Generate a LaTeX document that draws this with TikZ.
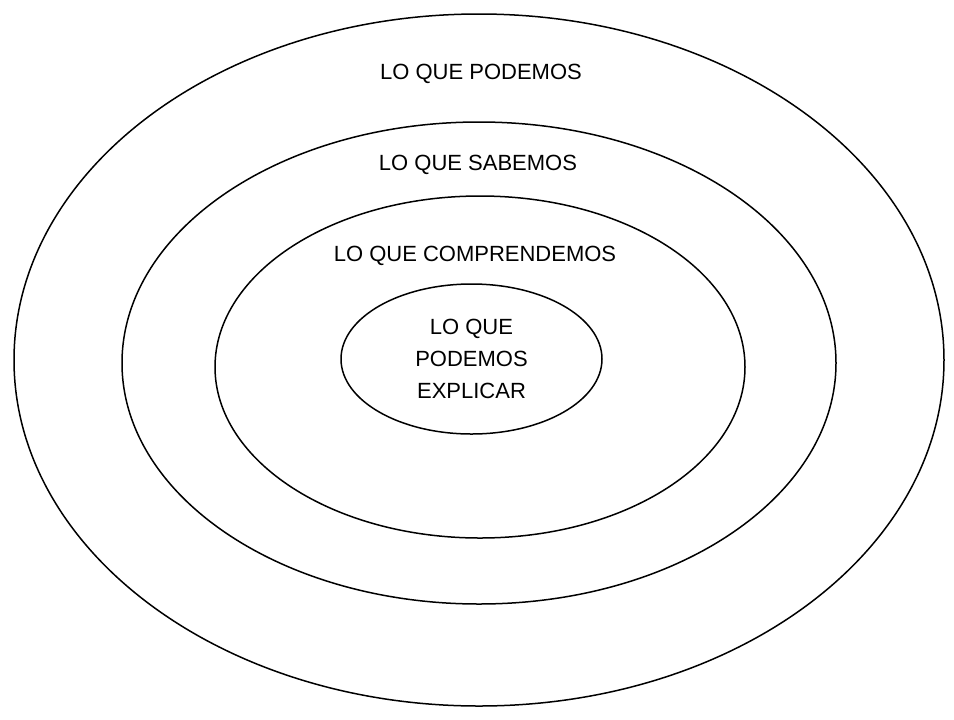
\documentclass[tikz,border=0pt]{standalone}
\usepackage{fontspec}
\setmainfont{Liberation Sans}
\usetikzlibrary{shapes.geometric}
\tikzset{
  ring/.style={ellipse,draw=black,line width=.75pt,inner sep=0pt},
  label/.style={font=\fontsize{11}{16}\selectfont,text=black,align=center}
}
\begin{document}
\begin{tikzpicture}[x=0.5pt,y=-0.5pt]
  \useasboundingbox (0,0) rectangle (954,719);
  \node[ring,minimum width=465pt,minimum height=346pt] (puede) at (479,360) {};
  \node[ring,minimum width=357pt,minimum height=241pt] (sabe) at (479,363) {};
  \node[ring,minimum width=265pt,minimum height=171pt] (comprende) at (480,367) {};
  \node[ring,minimum width=130.5pt,minimum height=75pt,label] (explica) at (471.5,359) {LO QUE\\PODEMOS\\EXPLICAR};
  \node[label] (tpuede) at (481,74) {LO QUE PODEMOS};
  \node[label] (tsabe) at (478,165) {LO QUE SABEMOS};
  \node[label] (tcomprende) at (475,255.5) {LO QUE COMPRENDEMOS};
\end{tikzpicture}
\end{document}
